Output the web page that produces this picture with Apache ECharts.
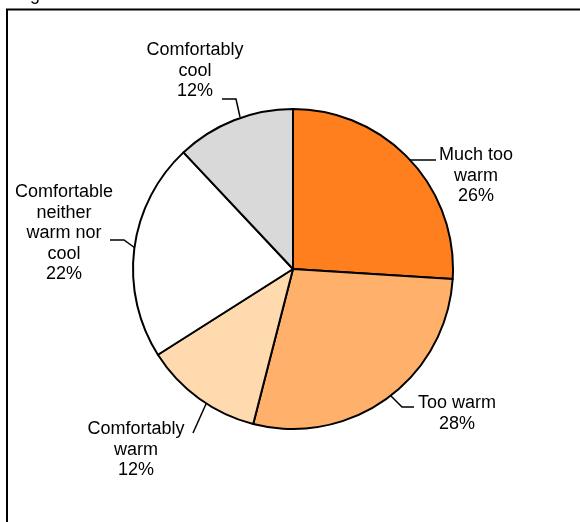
<!DOCTYPE html>
<html>
<head>
<meta charset="utf-8">
<script src="https://cdn.jsdelivr.net/npm/echarts@6/dist/echarts.min.js"></script>
<style>
html,body{margin:0;padding:0;background:#fff;}
#chart{width:580px;height:522px;}
</style>
</head>
<body>
<div id="chart"></div>
<script>
const categories = ["Much too\nwarm", "Too warm", "Comfortably\nwarm", "Comfortable\nneither\nwarm nor\ncool", "Comfortably\ncool"];
const shares = [26, 28, 12, 22, 12];
const sliceColors = ["#FF7F1E", "#FFB06A", "#FFDAAE", "#FFFFFF", "#D9D9D9"];

// label placement (styles, not data)
const labelPlace = [
  {x: 476, y: 145, line: [[410,160],[436,160]]},
  {x: 457, y: 393, line: [[388,393],[402,407],[414,407]]},
  {x: 136, y: 419, line: [[206,404],[193,433]]},
  {x: 64,  y: 182, line: [[135,248],[124,240],[110,240]]},
  {x: 195, y: 40,  line: [[240,117],[236,99],[222,99]]}
];

const chart = echarts.init(document.getElementById('chart'), null, {renderer: 'canvas'});
chart.setOption({
  animation: false,
  backgroundColor: '#fff',
  graphic: [
    {type: 'rect', shape: {x: 7, y: 9.5, width: 700, height: 700}, style: {fill: 'none', stroke: '#000', lineWidth: 2}},
    {type: 'text', x: 30, y: -14, style: {text: 'g', font: '18px "Liberation Sans", Arial, sans-serif', fill: '#000'}}
  ],
  series: [{
    type: 'pie',
    center: [293, 269],
    radius: 160,
    startAngle: 90,
    clockwise: true,
    avoidLabelOverlap: false,
    data: categories.map((n, i) => ({name: n, value: shares[i], itemStyle: {color: sliceColors[i]}})),
    itemStyle: {borderColor: '#000', borderWidth: 2},
    label: {
      show: true,
      position: 'outside',
      formatter: '{b}\n{c}%',
      fontFamily: '"Liberation Sans", Arial, sans-serif',
      fontSize: 18,
      lineHeight: 20.5,
      color: '#000',
      align: 'center'
    },
    labelLine: {show: true, smooth: false, lineStyle: {color: '#000', width: 1.5}},
    emphasis: {disabled: true},
    labelLayout: function (p) {
      const s = labelPlace[p.dataIndex];
      return {x: s.x, y: s.y, align: 'center', verticalAlign: 'top', labelLinePoints: s.line};
    }
  }]
});
</script>
</body>
</html>
